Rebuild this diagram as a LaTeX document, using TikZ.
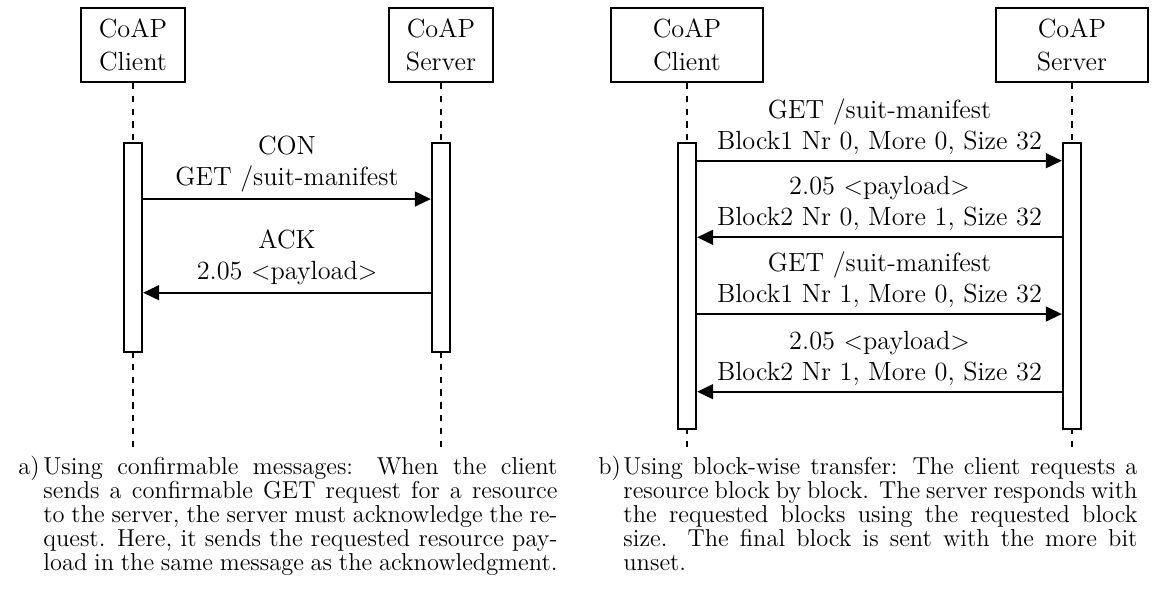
\documentclass[tikz,border=0pt]{standalone}
\usetikzlibrary{arrows.meta}

\begin{document}
\begin{tikzpicture}
            \tikzset{party/.style = {shape=rectangle, draw, line width=1pt, minimum width=2.51cm, minimum height=1.22cm, align=center, font=\fontsize{12.35}{15.7}\selectfont}}
            \tikzset{bar/.style = {shape=rectangle, draw, fill=white, line width=1pt, minimum width=0.3cm, inner sep=0pt}}
            \tikzset{life/.style = {draw, dashed, thick}}
            \tikzset{msg/.style = {-{Triangle[length=7.5pt,width=7pt]}, thick}}
            \tikzset{lbl/.style = {align=center, inner sep=0pt, text depth=0pt, font=\fontsize{12.35}{14.6}\selectfont}}
            \tikzset{captext/.style = {inner sep=0pt, font=\fontsize{11.5}{11.3}\selectfont}}
            \useasboundingbox (0,0) rectangle (19.29,-10.107);
            % a) confirmable messages
            \node[party,minimum width=1.72cm] (ac) at  (2.197,-0.743) {CoAP\\Client};
            \node[party,minimum width=1.72cm] (as) at  (7.283,-0.743) {CoAP\\Server};
            \coordinate (acend) at (2.197,-7.382);
            \coordinate (asend) at (7.283,-7.382);
            \draw[life] (ac) to (acend);
            \draw[life] (as) to (asend);
            \node[bar,minimum height=3.452cm] (acb) at (2.197,-4.083) {};
            \node[bar,minimum height=3.452cm] (asb) at (7.283,-4.083) {};
            \coordinate (a1) at (0,-3.287);
            \coordinate (a2) at (0,-4.834);
            \draw[msg] (acb.east |- a1) to node[lbl,above=5.8pt] {CON\\GET /suit-manifest} (asb.west |- a1);
            \draw[msg] (asb.west |- a2) to node[lbl,above=5.8pt] {ACK\\2.05 $<$payload$>$} (acb.east |- a2);
            % b) block-wise transfer
            \node[party] (bc) at  (11.346,-0.743) {CoAP\\Client};
            \node[party] (bs) at  (17.704,-0.743) {CoAP\\Server};
            \coordinate (bcend) at (11.346,-7.382);
            \coordinate (bsend) at (17.704,-7.382);
            \draw[life] (bc) to (bcend);
            \draw[life] (bs) to (bsend);
            \node[bar,minimum height=4.728cm] (bcb) at (11.346,-4.721) {};
            \node[bar,minimum height=4.728cm] (bsb) at (17.704,-4.721) {};
            \coordinate (b1) at (0,-2.654);
            \coordinate (b2) at (0,-3.919);
            \coordinate (b3) at (0,-5.186);
            \coordinate (b4) at (0,-6.469);
            \draw[msg] (bcb.east |- b1) to node[lbl,above=5pt] {GET /suit-manifest\\Block1 Nr 0, More 0, Size 32} (bsb.west |- b1);
            \draw[msg] (bsb.west |- b2) to node[lbl,above=5pt] {2.05 $<$payload$>$\\Block2 Nr 0, More 1, Size 32} (bcb.east |- b2);
            \draw[msg] (bcb.east |- b3) to node[lbl,above=5pt] {GET /suit-manifest\\Block1 Nr 1, More 0, Size 32} (bsb.west |- b3);
            \draw[msg] (bsb.west |- b4) to node[lbl,above=5pt] {2.05 $<$payload$>$\\Block2 Nr 1, More 0, Size 32} (bcb.east |- b4);
            % captions
            \node[captext,anchor=base west] (capalbl) at (0.297,-7.835) {a)};
            \node[captext,anchor=base west,text width=8.49cm,align=justify] (capa) at (0.71,-7.835) {Using confirmable messages: When the client sends a confirmable GET request for a resource to the server, the server must acknowledge the request. Here, it sends the requested resource payload in the same message as the acknowledgment.};
            \node[captext,anchor=base west] (capblbl) at (9.876,-7.835) {b)};
            \node[captext,anchor=base west,text width=8.49cm,align=justify] (capb) at (10.289,-7.835) {Using block-wise transfer: The client requests a resource block by block. The server responds with the requested blocks using the requested block size. The final block is sent with the more bit unset.};
        \end{tikzpicture}
\end{document}
